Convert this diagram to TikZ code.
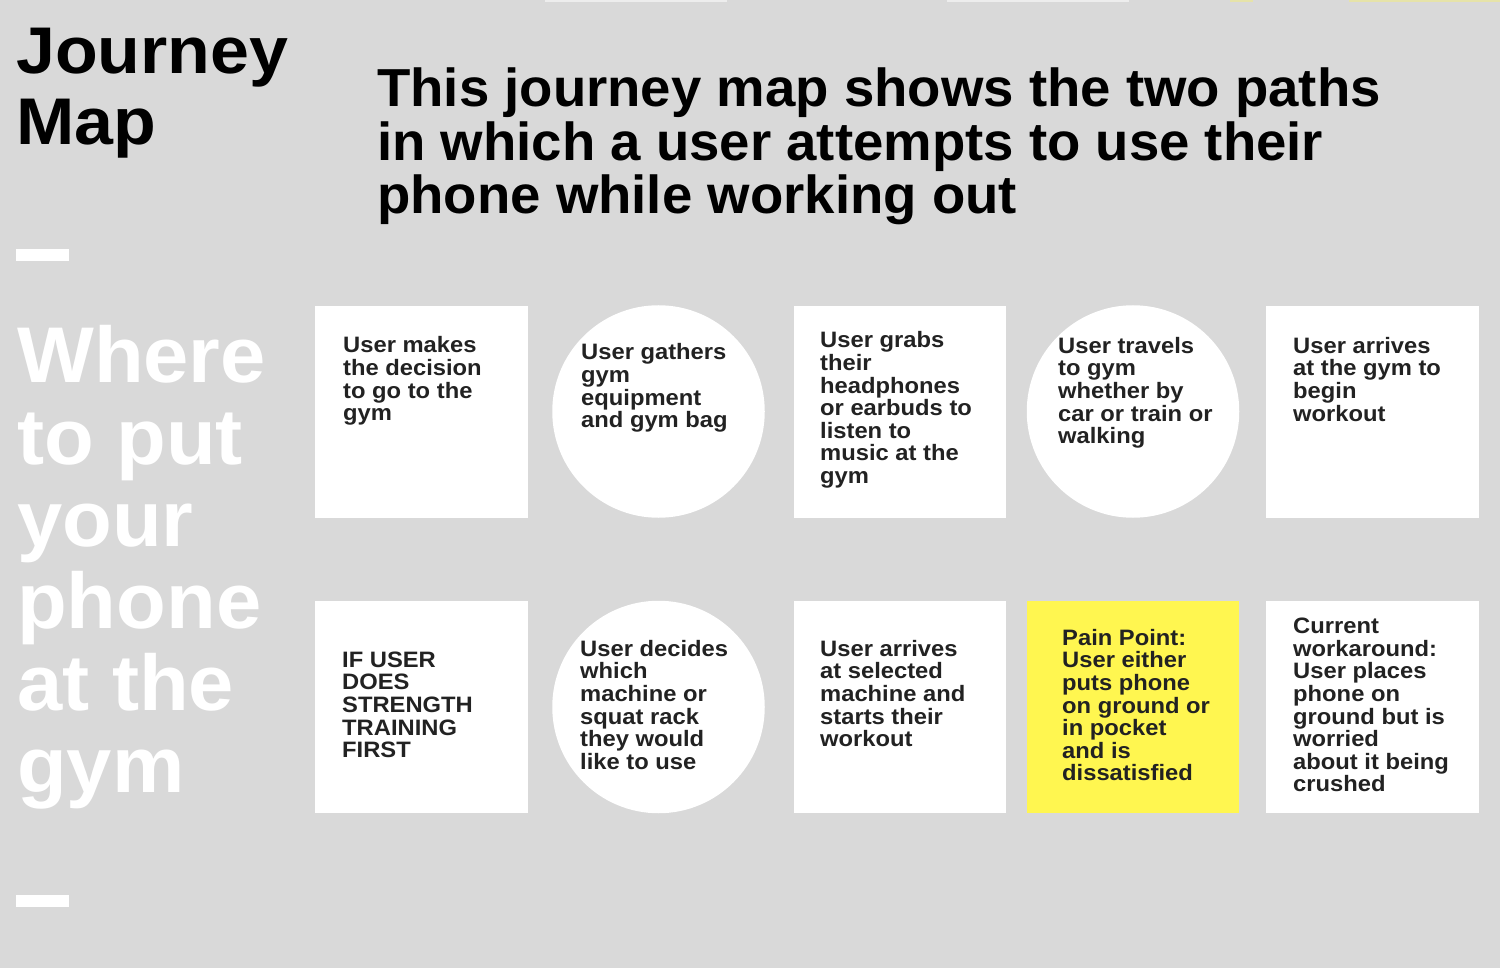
\documentclass[tikz,border=0pt]{standalone}
\usepackage{fontspec}
\setmainfont{Liberation Sans}
\newfontfamily\titlefont[FakeStretch=1.06]{Liberation Sans}
\newfontfamily\headfont[FakeStretch=1.02]{Liberation Sans}
\newfontfamily\sidefont[FakeStretch=1.03]{Liberation Sans}
\newfontfamily\cardfont[FakeStretch=1.065]{Liberation Sans}
\definecolor{bg}{HTML}{D9D9D9}
\definecolor{txt}{HTML}{222222}
\definecolor{pain}{HTML}{FFF650}
\tikzset{
  card/.style={rectangle, fill=white, draw=none, inner sep=0pt, minimum width=212.5pt, minimum height=212pt, anchor=north west},
  disc/.style={circle, fill=white, draw=none, inner sep=0pt, minimum size=212.5pt},
  paincard/.style={card, fill=pain},
  cardtext/.style={anchor=north west, inner sep=0pt, align=left, text=txt, font=\cardfont\bfseries\fontsize{22.3}{22.6}\selectfont},
  dashbar/.style={fill=white, draw=none},
}
\begin{document}
\begin{tikzpicture}[x=1pt, y=-1pt]
\fill[bg] (0,0) rectangle (1500,968);
\useasboundingbox (0,0) rectangle (1500,968);
% faint remnants at the top edge
\fill[white, opacity=0.55] (545,0) rectangle (727,2.5);
\fill[white, opacity=0.55] (947,0) rectangle (1129,2.5);
\fill[pain, opacity=0.35] (1230,0) rectangle (1253,2.5);
\fill[pain, opacity=0.35] (1349,0) rectangle (1500,2.5);

% titles
\node[anchor=north west, inner sep=0pt, align=left, text=black, font=\titlefont\bfseries\fontsize{66}{71}\selectfont] (title) at (16,28) {Journey\\Map};
\node[anchor=north west, inner sep=0pt, align=left, text=black, font=\headfont\bfseries\fontsize{53.5}{53.3}\selectfont] (head) at (377,68) {This journey map shows the two paths\\in which a user attempts to use their\\phone while working out};
\fill[dashbar] (16,249) rectangle (69,261);
\node[anchor=north west, inner sep=0pt, align=left, text=white, font=\sidefont\bfseries\fontsize{79}{82}\selectfont] (side) at (17,325) {Where\\to put\\your\\phone\\at the\\gym};
\fill[dashbar] (16,895) rectangle (69,907);

% row 1
\node[card] (c11) at (315,305.5) {};
\node[disc] (c12) at (658.5,411.5) {};
\node[card] (c13) at (793.5,305.5) {};
\node[disc] (c14) at (1133,411.5) {};
\node[card] (c15) at (1266,305.5) {};
\node[cardtext] (t11) at (343,336.5) {User makes\\the decision\\to go to the\\gym};
\node[cardtext] (t12) at (581,343.5) {User gathers\\gym\\equipment\\and gym bag};
\node[cardtext] (t13) at (820,331.5) {User grabs\\their\\headphones\\or earbuds to\\listen to\\music at the\\gym};
\node[cardtext] (t14) at (1058,337) {User travels\\to gym\\whether by\\car or train or\\walking};
\node[cardtext] (t15) at (1293,337) {User arrives\\at the gym to\\begin\\workout};

% row 2
\node[card] (c21) at (315,601) {};
\node[disc] (c22) at (658.5,707) {};
\node[card] (c23) at (793.5,601) {};
\node[paincard] (c24) at (1026.5,601) {};
\node[card] (c25) at (1266,601) {};
\node[cardtext] (t21) at (342,651.5) {IF USER\\DOES\\STRENGTH\\TRAINING\\FIRST};
\node[cardtext] (t22) at (580,640) {User decides\\which\\machine or\\squat rack\\they would\\like to use};
\node[cardtext] (t23) at (820,640) {User arrives\\at selected\\machine and\\starts their\\workout};
\node[cardtext] (t24) at (1062,629) {Pain Point:\\User either\\puts phone\\on ground or\\in pocket\\and is\\dissatisfied};
\node[cardtext] (t25) at (1293,618) {Current\\workaround:\\User places\\phone on\\ground but is\\worried\\about it being\\crushed};
\end{tikzpicture}
\end{document}
